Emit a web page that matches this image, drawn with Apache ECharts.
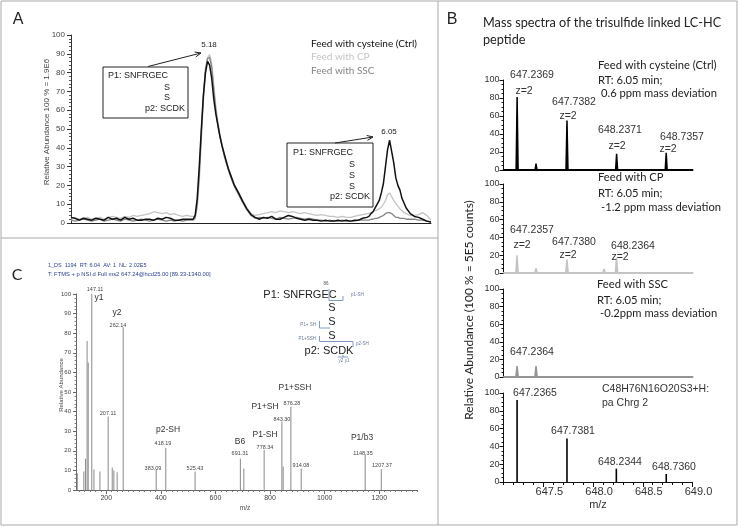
<!DOCTYPE html>
<html><head><meta charset="utf-8">
<script src="https://cdn.jsdelivr.net/npm/echarts@6/dist/echarts.min.js"></script>
<style>html,body{margin:0;padding:0;background:#fff}#c{width:738px;height:527px}</style>
</head><body><div id="c"></div>
<script>
// ---------- Panel A: extracted ion chromatograms ----------
const aTimes = [4.51,4.53,4.55,4.57,4.59,4.61,4.63,4.65,4.67,4.69,4.71,4.73,4.75,4.77,4.79,4.81,4.83,4.85,4.87,4.89,4.91,4.93,4.95,4.97,4.99,5.01,5.03,5.05,5.07,5.09,
 5.10,5.11,5.12,5.13,5.14,5.15,5.16,5.17,5.18,5.19,5.20,5.21,5.22,5.23,5.24,5.25,5.26,5.27,5.28,5.29,5.30,5.32,5.34,5.36,5.38,5.40,
 5.42,5.44,5.46,5.48,5.50,5.52,5.54,5.56,5.58,5.60,5.62,5.64,5.66,5.68,5.70,5.72,5.74,5.76,5.78,5.80,5.82,5.84,5.86,5.88,5.90,5.92,5.94,
 5.95,5.96,5.97,5.98,5.99,6.00,6.01,6.02,6.03,6.04,6.05,6.06,6.07,6.08,6.09,6.10,6.11,6.12,6.13,6.15,6.17,6.19,6.21,6.23,6.25];
const aCtrl = [3,2.5,1.5,2.5,2,1.5,2.5,2,1.5,3,2,2.5,1.5,3,2,2.5,1.5,1.5,2,2,1.5,2.5,2,3,2.5,1.5,1.5,2,2,2,
 2,4,13,30,50,68,80,86,84,77,66,58,52,46,41,37,33,29,26,23,20,16,11.5,7.5,4.5,3,
 2,3,2.5,3.5,2,2,3,4,3.5,2.5,2,1.5,2,1.5,1.5,1,1.5,1,1,1.5,1,1.5,1,1.5,1.5,2.5,3,
 3.5,5,6,8,10,12,16,21,30,39,44,38,32,24,20,17.5,13,10.5,8,5,3.5,3,2,1,0.5];
const aCP = [2,2.5,2,2.5,3,2,2.5,3,2,3,3.5,3,2.5,3.5,3,4,3.5,4,4.5,5,6,5.5,5,5.5,4.5,5,4,3.5,4,3.5,
 3.5,3.5,8,22,44,65,80,88,89.5,85,74,62,54,47,42,37,33,29.5,26,23,20.5,16,12,8,5,4,
 4.5,5,5.5,6,5.5,6.5,6,5.5,6,5.5,5,5.5,5,4.5,4,4.5,4,3.5,3.5,3,3.5,3,3,3.5,4,4.5,5,
 5,5.5,6,6.5,7,7.5,8.5,10,12,15,16,14,12,10.5,9,7.5,6.5,5.5,5,4,4,4.5,5.5,4,1.5];
const aSSC = [1.5,1,1.5,2,1.5,1,1.5,2,1,1.5,2,1.5,1,2,1.5,1,1.5,2,1.5,1,1.5,2,1.5,1,1.5,1,1.5,1,1.5,1.5,
 1.5,2.5,10,26,48,68,82,87.5,88,83,71,60,52,46,41,36,32,28.5,25,22,19.5,15,11,7,4,2.5,
 3,2.5,3,2.5,2,3,2.5,2,2.5,3,2.5,2,2.5,2,1.5,1.5,1,1.5,1,1,1.5,1,1,1,1.5,1.5,1.5,
 1.5,2,2,2.5,2.5,3,3.5,4,5,5.5,5.5,5,4,3,3,2.5,2.5,2.5,2,2,2,1.5,1.5,1,0.5];

// ---------- Panel B: mass spectra ----------
const bCtrlMz  = [647.2369, 647.427, 647.7382, 648.2371, 648.7357];
const bCtrlInt = [81, 7, 55, 18, 19];
const bCPMz    = [647.2357, 647.427, 647.7380, 648.111, 648.2364];
const bCPInt   = [20, 5.5, 15, 4.5, 17];
const bSSCMz   = [647.2364, 647.427];
const bSSCInt  = [12.5, 12.5];
const bTheoMz  = [647.2365, 647.7381, 648.2344, 648.7360];
const bTheoInt = [92, 49, 15, 9];
const bTickLabels = [647.5, 648.0, 648.5, 649.0];

// ---------- Panel C: MS2 spectrum ----------
const cMz  = [94, 118, 124, 130, 134, 147.11, 155, 177, 207.11, 222, 228, 240, 262.14, 383.09, 418.19, 525.43, 691.31, 704, 778.34, 843.30, 848, 876.28, 914.08, 1148.35, 1207.37];
const cInt = [8.5, 9.5, 16, 76, 65, 100, 10.5, 9.5, 37.5, 11.5, 10, 9, 83, 10.5, 21.5, 9.5, 16, 11, 20.5, 35, 12, 42.5, 11, 18, 10.7];
const cTickLabels = [200, 400, 600, 800, 1000, 1200];

// ---------- helpers ----------
const pairs = (xs, ys) => xs.map((x, i) => [x, ys[i]]);
function profile(mzs, ints, lo, hi, w) {
  const d = [[lo, 0]];
  mzs.forEach((m, i) => { d.push([m - w, 0], [m, ints[i]], [m + w, 0]); });
  d.push([hi, 0]);
  return d;
}
const bMinor = []; for (let i = 1; i <= 20; i++) bMinor.push(+(647 + i * 0.1).toFixed(1));
const cMinor = []; for (let v = 100; v <= 1340; v += 20) cMinor.push(v);

const ARIAL = 'Liberation Sans', CAL = 'Lato';
const G = [];
function txt(x, y, s, size, o = {}) {
  G.push({type: 'text', x, y, rotation: o.rot || 0, z: 100, silent: true,
    style: {text: s, fontSize: size, fontFamily: o.ff || ARIAL, fill: o.c || '#222',
      align: o.a || 'center', verticalAlign: 'middle', fontWeight: o.w || 'normal'}});
}
function ln(x1, y1, x2, y2, c, w) {
  G.push({type: 'line', z: 100, silent: true, shape: {x1, y1, x2, y2}, style: {stroke: c, lineWidth: w}});
}
function arrow(x1, y1, x2, y2) {
  ln(x1, y1, x2, y2, '#222', 1);
  const a = Math.atan2(y2 - y1, x2 - x1), L = 6, W = 2.5;
  const bx = x2 - L * Math.cos(a), by = y2 - L * Math.sin(a);
  G.push({type: 'polyline', z: 100, silent: true, shape: {points: [
    [bx + W * Math.sin(a), by - W * Math.cos(a)], [x2, y2], [bx - W * Math.sin(a), by + W * Math.cos(a)]]},
    style: {stroke: '#222', lineWidth: 1, fill: 'none'}});
}
function box(x, y, w, h) {
  G.push({type: 'rect', z: 99, silent: true, shape: {x, y, width: w, height: h}, style: {fill: 'none', stroke: '#222', lineWidth: 1}});
}

// frame
G.push({type: 'rect', z: 1, silent: true, shape: {x: 1, y: 1, width: 736, height: 524}, style: {fill: 'none', stroke: '#a8a8a8', lineWidth: 1}});
ln(438, 1, 438, 525, '#a8a8a8', 1);
ln(1, 238, 438, 238, '#a8a8a8', 1);

// Panel A annotations
txt(18, 20, 'A', 16);
txt(47, 122, 'Relative Abundance 100 % = 1.9E6', 8, {rot: Math.PI / 2, c: '#444'});
box(103, 67, 85, 51);
txt(108, 76, 'P1: SNFRGEC', 9, {a: 'left'});
txt(167, 88, 'S', 9); txt(167, 98, 'S', 9);
txt(185, 109, 'p2: SCDK', 9, {a: 'right'});
arrow(148, 66.5, 201, 53);
txt(209, 45, '5.18', 8);
box(287, 143, 86, 64);
txt(293, 153, 'P1: SNFRGEC', 9, {a: 'left'});
txt(352, 165, 'S', 9); txt(352, 176, 'S', 9); txt(352, 187, 'S', 9);
txt(370, 197, 'p2: SCDK', 9, {a: 'right'});
arrow(335, 143, 373, 137);
txt(389, 132, '6.05', 8);
txt(311, 44, 'Feed with cysteine (Ctrl)', 10, {a: 'left', ff: CAL, c: '#111'});
txt(311, 57, 'Feed with CP', 10, {a: 'left', ff: CAL, c: '#c4c4c4'});
txt(311, 71, 'Feed with SSC', 10, {a: 'left', ff: CAL, c: '#858585'});

// Panel B annotations
const BF = 11.2;
txt(452, 20, 'B', 16);
txt(483, 23, 'Mass spectra of the trisulfide linked LC-HC', 12.7, {a: 'left', ff: CAL});
txt(483, 40, 'peptide', 12.7, {a: 'left', ff: CAL});
txt(469, 310, 'Relative Abundance (100 % = 5E5 counts)', 12, {rot: Math.PI / 2, ff: CAL});
txt(598, 65, 'Feed with cysteine (Ctrl)', BF, {a: 'left', ff: CAL});
txt(598, 80, 'RT: 6.05 min;', BF, {a: 'left', ff: CAL});
txt(601, 93, '0.6 ppm mass deviation', BF, {a: 'left', ff: CAL});
txt(532, 75, '647.2369', 10.5, {c: '#333'}); txt(524, 91, 'z=2', 10.5, {c: '#333'});
txt(574, 102, '647.7382', 10.5, {c: '#333'}); txt(568, 116, 'z=2', 10.5, {c: '#333'});
txt(620, 130, '648.2371', 10.5, {c: '#333'}); txt(617, 146, 'z=2', 10.5, {c: '#333'});
txt(682, 137, '648.7357', 10.5, {c: '#333'}); txt(668, 149, 'z=2', 10.5, {c: '#333'});
txt(598, 177, 'Feed with CP', BF, {a: 'left', ff: CAL});
txt(598, 193, 'RT: 6.05 min;', BF, {a: 'left', ff: CAL});
txt(601, 207, '-1.2 ppm mass deviation', BF, {a: 'left', ff: CAL});
txt(532, 230, '647.2357', 10.5, {c: '#333'}); txt(522, 245, 'z=2', 10.5, {c: '#333'});
txt(574, 242, '647.7380', 10.5, {c: '#333'}); txt(568, 255, 'z=2', 10.5, {c: '#333'});
txt(633, 246, '648.2364', 10.5, {c: '#333'}); txt(620, 257, 'z=2', 10.5, {c: '#333'});
txt(597, 284, 'Feed with SSC', BF, {a: 'left', ff: CAL});
txt(597, 300, 'RT: 6.05 min;', BF, {a: 'left', ff: CAL});
txt(600, 313, '-0.2ppm mass deviation', BF, {a: 'left', ff: CAL});
txt(532, 352, '647.2364', 10.5, {c: '#333'});
txt(602, 389, 'C48H76N16O20S3+H:', 10.5, {a: 'left', c: '#333'});
txt(602, 403, 'pa Chrg 2', 10.5, {a: 'left', c: '#333'});
txt(535, 393, '647.2365', 10.5, {c: '#333'});
txt(573, 431, '647.7381', 10.5, {c: '#333'});
txt(620, 462, '648.2344', 10.5, {c: '#333'});
txt(674, 467, '648.7360', 10.5, {c: '#333'});
txt(598, 505, 'm/z', 11, {c: '#333'});

// Panel C annotations
txt(17, 275, 'C', 16, {ff: CAL});
txt(48, 265, '1_DS  1194  RT: 6.04  AV: 1  NL: 2.02E5', 5.5, {a: 'left', c: '#2b3f8f'});
txt(48, 274, 'T: FTMS + p NSI d Full ms2 647.24@hcd25.00 [89.33-1340.00]', 5.8, {a: 'left', c: '#2b3f8f'});
txt(61, 385, 'Relative Abundance', 6, {rot: Math.PI / 2, c: '#444'});
txt(245, 508, 'm/z', 6.5, {c: '#444'});
const pk = (x, y, s) => txt(x, y, s, 5.5, {c: '#444'});
const fr = (x, y, s) => txt(x, y, s, 8.5, {c: '#333'});
pk(95, 289, '147.11'); fr(99, 298, 'y1');
fr(117, 313, 'y2'); pk(118, 325, '262.14');
pk(108, 413, '207.11');
fr(168, 430, 'p2-SH'); pk(163, 443, '418.19');
pk(153, 468, '383.09'); pk(195, 468, '525.43');
fr(240, 442, 'B6'); pk(240, 453, '691.31');
fr(265, 435, 'P1-SH'); pk(265, 447, '778.34');
fr(265, 407, 'P1+SH'); pk(282, 419, '843.30');
fr(295, 388, 'P1+SSH'); pk(292, 403, '876.28');
pk(301, 465, '914.08');
fr(362, 438, 'P1/b3'); pk(363, 453, '1148.35');
pk(382, 465, '1207.37');
// structure diagram
const BL = '#7f9cc0';
txt(300, 295, 'P1: SNFRGEC', 11);
txt(326, 284, '86', 4.5, {c: '#555'});
txt(332, 308, 'S', 11); txt(332, 322, 'S', 11); txt(332, 336, 'S', 11);
txt(329, 351, 'p2: SCDK', 11);
ln(329, 289, 329, 300.5, BL, 1); ln(329, 300.5, 343, 300.5, BL, 1); ln(343, 296, 343, 300.5, BL, 1);
txt(351, 295, 'p1-SH', 4.5, {a: 'left', c: '#6a7a95'});
ln(319.5, 321, 319.5, 328, BL, 1); ln(319.5, 328, 330, 328, BL, 1);
txt(316, 325, 'P1+ SH', 4.5, {a: 'right', c: '#6a7a95'});
ln(319.5, 336, 319.5, 341.5, BL, 1); ln(319.5, 341.5, 353, 341.5, BL, 1); ln(353, 341.5, 353, 347, BL, 1);
txt(316, 339, 'P1+SSH', 4.5, {a: 'right', c: '#6a7a95'});
txt(356, 344, 'p2-SH', 4.5, {a: 'left', c: '#6a7a95'});
ln(338, 357, 348, 357, BL, 1); ln(343, 355, 343, 357, BL, 1);
txt(344, 361, 'y2 y1', 4.5, {c: '#6a7a95'});

// ---------- chart ----------
const chart = echarts.init(document.getElementById('c'), null, {renderer: 'canvas'});
const grids = [
  {left: 71, top: 35, width: 360, height: 188},
  {left: 503.5, top: 80, width: 189, height: 90},
  {left: 503.5, top: 184, width: 189, height: 89},
  {left: 503.5, top: 289, width: 189, height: 88},
  {left: 503.5, top: 393, width: 189, height: 89},
  {left: 76, top: 294, width: 341.5, height: 196}
].map(g => Object.assign({outerBoundsMode: 'none', containLabel: false}, g));

const noSplit = {show: false};
const bY = (gi) => ({type: 'value', gridIndex: gi, min: 0, max: 100, interval: 20,
  axisLine: {show: true, lineStyle: {color: '#111', width: 1}},
  axisTick: {show: true, length: 4, lineStyle: {color: '#111'}},
  minorTick: {show: true, splitNumber: 4, length: 2, lineStyle: {color: '#111'}},
  axisLabel: {fontSize: 9, color: '#333', fontFamily: ARIAL, margin: 4},
  splitLine: noSplit, minorSplitLine: noSplit});
const bX = (gi, color, w) => ({type: 'value', gridIndex: gi, min: 647.1, max: 649.0, position: 'bottom',
  axisLine: {show: true, onZero: false, lineStyle: {color, width: w}},
  axisTick: {show: false}, axisLabel: {show: false}, splitLine: noSplit});

const option = {
  animation: false,
  backgroundColor: '#fff',
  grid: grids,
  xAxis: [
    {type: 'value', gridIndex: 0, min: 4.51, max: 6.25, axisLine: {show: true, onZero: false, lineStyle: {color: '#222', width: 1}},
      axisTick: {show: false}, axisLabel: {show: false}, splitLine: noSplit},
    bX(1, '#000', 2), bX(2, '#c4c4c4', 2), bX(3, '#959595', 2),
    {type: 'value', gridIndex: 4, min: 647.1, max: 649.0, position: 'bottom',
      axisLine: {show: true, onZero: false, lineStyle: {color: '#111', width: 1}},
      axisTick: {show: true, length: 5, customValues: bTickLabels, lineStyle: {color: '#111'}},
      axisLabel: {show: true, customValues: bTickLabels, formatter: v => v.toFixed(1), fontSize: 11, color: '#333',
        fontFamily: ARIAL, margin: 4, padding: [0, 0, 0, 12]},
      splitLine: noSplit},
    {type: 'value', gridIndex: 5, min: 89.33, max: 1340, position: 'bottom',
      axisLine: {show: true, onZero: false, lineStyle: {color: '#666', width: 1}},
      axisTick: {show: true, length: 4, customValues: cTickLabels, lineStyle: {color: '#666'}},
      axisLabel: {show: true, customValues: cTickLabels, formatter: v => String(v), fontSize: 7, color: '#444', fontFamily: ARIAL, margin: 5},
      splitLine: noSplit},
    {type: 'value', gridIndex: 4, min: 647.1, max: 649.0, position: 'bottom',
      axisLine: {show: false}, axisTick: {show: true, length: 3, customValues: bMinor, lineStyle: {color: '#111'}},
      axisLabel: {show: false}, splitLine: noSplit},
    {type: 'value', gridIndex: 5, min: 89.33, max: 1340, position: 'bottom',
      axisLine: {show: false}, axisTick: {show: true, length: 2, customValues: cMinor, lineStyle: {color: '#777'}},
      axisLabel: {show: false}, splitLine: noSplit}
  ],
  yAxis: [
    {type: 'value', gridIndex: 0, min: 0, max: 100, interval: 10,
      axisLine: {show: true, lineStyle: {color: '#333', width: 1}},
      axisTick: {show: true, length: 4, lineStyle: {color: '#333'}},
      minorTick: {show: true, splitNumber: 5, length: 2, lineStyle: {color: '#555'}},
      axisLabel: {fontSize: 8, color: '#444', fontFamily: ARIAL, margin: 6},
      splitLine: noSplit, minorSplitLine: noSplit},
    bY(1), bY(2), bY(3), bY(4),
    {type: 'value', gridIndex: 5, min: 0, max: 100, interval: 10,
      axisLine: {show: true, lineStyle: {color: '#666', width: 1}},
      axisTick: {show: true, length: 3, lineStyle: {color: '#666'}},
      minorTick: {show: true, splitNumber: 5, length: 1.5, lineStyle: {color: '#888'}},
      axisLabel: {fontSize: 6, color: '#444', fontFamily: ARIAL, margin: 5},
      splitLine: noSplit, minorSplitLine: noSplit}
  ],
  series: [
    {name: 'Feed with CP', type: 'line', xAxisIndex: 0, yAxisIndex: 0, data: pairs(aTimes, aCP), showSymbol: false,
      lineStyle: {color: '#c4c4c4', width: 1.3}, silent: true},
    {name: 'Feed with SSC', type: 'line', xAxisIndex: 0, yAxisIndex: 0, data: pairs(aTimes, aSSC), showSymbol: false,
      lineStyle: {color: '#858585', width: 1.3}, silent: true},
    {name: 'Feed with cysteine (Ctrl)', type: 'line', xAxisIndex: 0, yAxisIndex: 0, data: pairs(aTimes, aCtrl), showSymbol: false,
      lineStyle: {color: '#111', width: 1.5}, silent: true},
    {type: 'line', xAxisIndex: 1, yAxisIndex: 1, data: profile(bCtrlMz, bCtrlInt, 647.1, 649.0, 0.01), showSymbol: false,
      lineStyle: {color: '#000', width: 1.5}, areaStyle: {color: '#000', opacity: 1}, silent: true},
    {type: 'line', xAxisIndex: 2, yAxisIndex: 2, data: profile(bCPMz, bCPInt, 647.1, 649.0, 0.012), showSymbol: false,
      lineStyle: {color: '#c4c4c4', width: 1.5}, areaStyle: {color: '#c4c4c4', opacity: 1}, silent: true},
    {type: 'line', xAxisIndex: 3, yAxisIndex: 3, data: profile(bSSCMz, bSSCInt, 647.1, 649.0, 0.012), showSymbol: false,
      lineStyle: {color: '#959595', width: 1.5}, areaStyle: {color: '#959595', opacity: 1}, silent: true},
    {type: 'bar', xAxisIndex: 4, yAxisIndex: 4, data: pairs(bTheoMz, bTheoInt), barWidth: 1.6,
      itemStyle: {color: '#000'}, silent: true},
    {type: 'bar', xAxisIndex: 5, yAxisIndex: 5, data: pairs(cMz, cInt), barWidth: 1,
      itemStyle: {color: '#8a8a8a'}, silent: true}
  ],
  graphic: {elements: G}
};
chart.setOption(option);
</script>
</body></html>
